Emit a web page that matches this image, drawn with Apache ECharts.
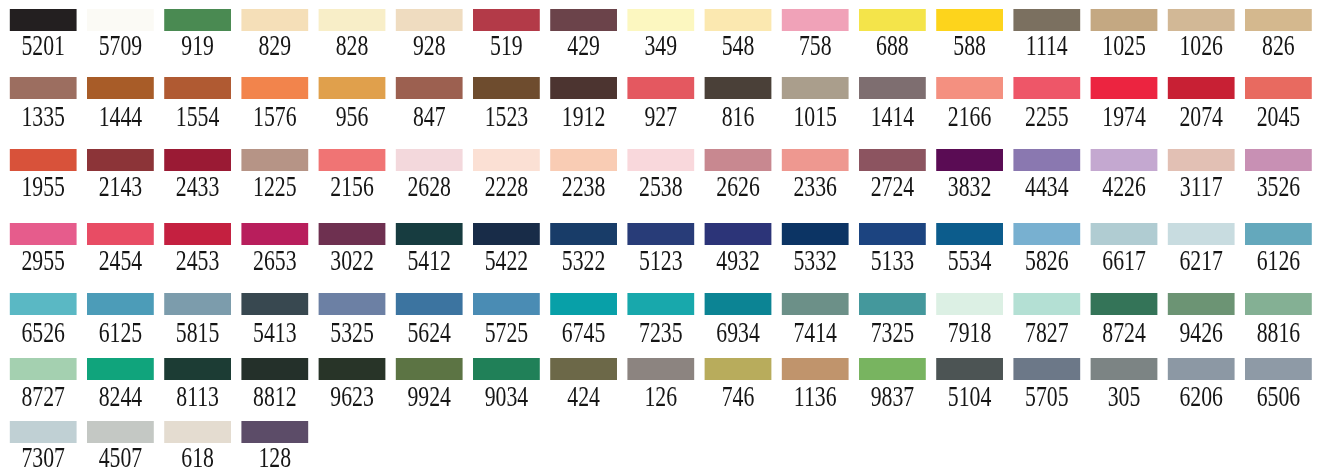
<!DOCTYPE html>
<html><head><meta charset="utf-8">
<script src="https://cdn.jsdelivr.net/npm/echarts@6/dist/echarts.min.js"></script>
<style>html,body{margin:0;padding:0;background:#fff}#c{width:1317px;height:468px}</style>
</head><body><div id="c"></div>
<script>
// Thread colour codes, read left-to-right, top-to-bottom
const codes = [
  '5201','5709','919','829','828','928','519','429','349','548','758','688','588','1114','1025','1026','826',
  '1335','1444','1554','1576','956','847','1523','1912','927','816','1015','1414','2166','2255','1974','2074','2045',
  '1955','2143','2433','1225','2156','2628','2228','2238','2538','2626','2336','2724','3832','4434','4226','3117','3526',
  '2955','2454','2453','2653','3022','5412','5422','5322','5123','4932','5332','5133','5534','5826','6617','6217','6126',
  '6526','6125','5815','5413','5325','5624','5725','6745','7235','6934','7414','7325','7918','7827','8724','9426','8816',
  '8727','8244','8113','8812','9623','9924','9034','424','126','746','1136','9837','5104','5705','305','6206','6506',
  '7307','4507','618','128'
];
// Swatch colours, same order as codes
const colours = [
  '#231f20','#fbfaf5','#4a8a52','#f5dfb8','#f8eec8','#efdcc0','#b33a48','#6b434a','#fcf7c0','#fbe8b0','#f0a2b8','#f4e44a','#fdd41c','#7b7060','#c4a882','#d2b896','#d4b88e',
  '#9c6e60','#a85c28','#b05a32','#f2844c','#e0a04c','#9c6050','#6e4c2e','#4c3430','#e45860','#4a4038','#aa9e8c','#7e6e70','#f49080','#ee5668','#ec2440','#c82034','#e86a60',
  '#d8523a','#8c3438','#9a1a34','#b69486','#f07474','#f3d8dc','#fbe0d4','#f9ccb4','#f9d8dc','#c88890','#ee9890','#8c5460','#5a0c54','#8a78b0','#c4a8d0','#e2c0b4','#c890b4',
  '#e65c8c','#e84c64','#c42040','#b81e5c','#6e3050','#173c40','#182c48','#183c68','#283c78','#2c3478','#0c3464','#1c4480','#0c5c8c','#78b0d0','#b0ccd2','#c8dce0','#64a8bc',
  '#5ab8c4','#4c9cb8','#7c9cac','#384850','#6c80a4','#3c74a0','#4a8cb4','#08a0a8','#18a8ac','#0c8494','#6c9088','#44989c','#dcf0e4','#b4e0d4','#347458','#6c9474','#84b094',
  '#a4d0b0','#10a47c','#1c3c34','#24302a','#283428','#5c7444','#208058','#6c6848','#8c8480','#b8ac5c','#c0946c','#78b460','#4c5454','#6c7888','#7c8484','#8c98a4','#8e9aa6',
  '#c0d0d4','#c4c8c4','#e4dcd0','#5c4c68'
];
const columnSlots = ['1','2','3','4','5','6','7','8','9','10','11','12','13','14','15','16','17'];

const PER_ROW = columnSlots.length;
const nRows = Math.ceil(codes.length / PER_ROW);
// layout (pixels)
const rowTops = [9, 77, 149, 223, 293, 358, 421];
const labelGaps = [16, 19, 17, 17, 19, 18.5, 16];

const grids = [], xAxes = [], yAxes = [], series = [];
for (let r = 0; r < nRows; r++) {
  grids.push({left: 4.6, width: 1321, top: rowTops[r], height: 22});
  xAxes.push({type: 'category', data: columnSlots, gridIndex: r, show: false, boundaryGap: true});
  yAxes.push({type: 'value', min: 0, max: 1, gridIndex: r, show: false});
  const start = r * PER_ROW;
  const rowCodes = codes.slice(start, start + PER_ROW);
  const rowCols = colours.slice(start, start + PER_ROW);
  const gap = labelGaps[r];
  series.push({
    type: 'custom',
    xAxisIndex: r, yAxisIndex: r,
    data: rowCodes.map((c, i) => [i, 1]),
    encode: {x: 0, y: 1},
    silent: true,
    renderItem: function (params, api) {
      const i = api.value(0);
      const top = api.coord([i, 1]);
      const bot = api.coord([i, 0]);
      const bw = api.size([1, 0])[0];
      const w = bw * 0.865;
      return {
        type: 'group',
        children: [
          {type: 'rect', shape: {x: top[0] - w / 2, y: top[1], width: w, height: bot[1] - top[1]},
           style: {fill: rowCols[params.dataIndex]}},
          {type: 'text', x: top[0], y: bot[1] + gap, scaleX: 0.75,
           style: {text: rowCodes[params.dataIndex], fontSize: 29, fontFamily: '"Liberation Serif", serif',
                   fill: '#151515', align: 'center', verticalAlign: 'middle'}}
        ]
      };
    }
  });
}

const chart = echarts.init(document.getElementById('c'));
chart.setOption({
  animation: false,
  backgroundColor: '#ffffff',
  grid: grids, xAxis: xAxes, yAxis: yAxes, series: series
});
</script></body></html>
